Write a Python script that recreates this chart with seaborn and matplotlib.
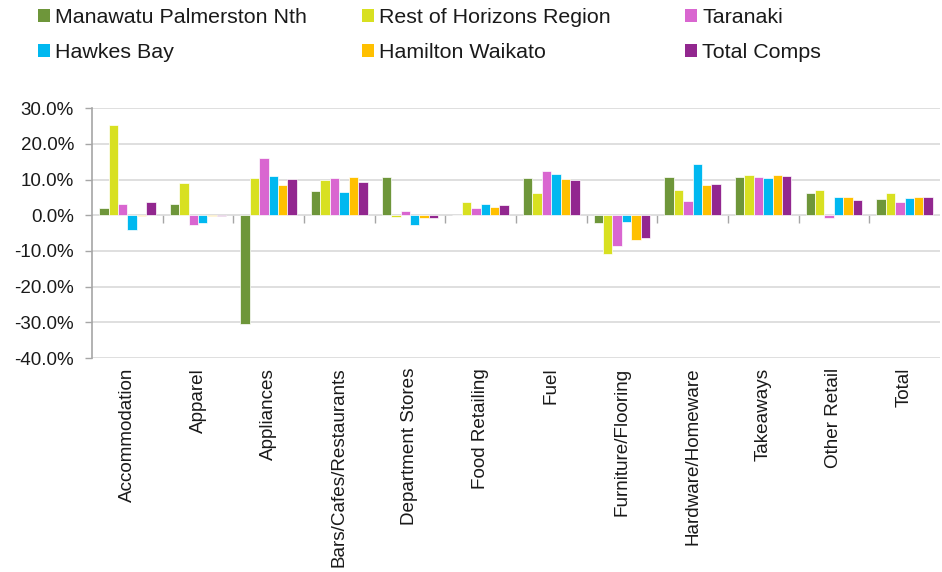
import pandas as pd
import matplotlib.pyplot as plt
import seaborn as sns
from matplotlib.ticker import PercentFormatter
from matplotlib.patches import Patch

# Kategoriler ve seriler
categories = ['Accommodation', 'Apparel', 'Appliances', 'Bars/Cafes/Restaurants',
              'Department Stores', 'Food Retailing', 'Fuel', 'Furniture/Flooring',
              'Hardware/Homeware', 'Takeaways', 'Other Retail', 'Total']
series = ['Manawatu Palmerston Nth', 'Rest of Horizons Region', 'Taranaki',
          'Hawkes Bay', 'Hamilton Waikato', 'Total Comps']
colors = ['#6E963A', '#D8E021', '#D966D0', '#00B8F0', '#FFC000', '#92278F']

# Değerler (%)
manawatu = [1.9, 3.1, -30.4, 6.9, 10.8, 0.0, 10.3, -2.1, 10.6, 10.7, 6.2, 4.6]
rest_horizons = [25.3, 9.1, 10.5, 9.8, -0.6, 3.6, 6.3, -10.9, 7.1, 11.3, 7.1, 6.2]
taranaki = [3.1, -2.6, 16.0, 10.5, 1.2, 2.1, 12.3, -8.5, 3.9, 10.6, -0.7, 3.8]
hawkes_bay = [-4.2, -2.1, 11.0, 6.4, -2.6, 3.2, 11.6, -1.8, 14.4, 10.3, 5.0, 4.9]
hamilton = [-0.2, -0.1, 8.5, 10.7, -0.7, 2.4, 10.1, -6.8, 8.4, 11.3, 5.0, 5.1]
total_comps = [3.7, -0.1, 10.2, 9.4, -0.9, 2.8, 9.9, -6.4, 8.7, 11.0, 4.4, 5.0]

values = [manawatu, rest_horizons, taranaki, hawkes_bay, hamilton, total_comps]
rows = []
for s, vals in zip(series, values):
    for c, v in zip(categories, vals):
        rows.append({'Category': c, 'Series': s, 'Value': v})
df = pd.DataFrame(rows)

sns.set_style('white')
plt.rcParams['font.family'] = ['Liberation Sans', 'DejaVu Sans']
plt.rcParams['axes.unicode_minus'] = False

fig = plt.figure(figsize=(9.42, 5.72), dpi=100)
ax = fig.add_axes([0.0977, 0.374, 0.9, 0.437])

sns.barplot(data=df, x='Category', y='Value', hue='Series', order=categories,
            hue_order=series, palette=colors, saturation=1, width=0.8, ax=ax,
            edgecolor='white', linewidth=0.5, legend=False)

ymin, ymax = -40, 30
ax.set_ylim(ymin, ymax)
ax.set_xlim(-0.5, len(categories) - 0.5)
ax.set_yticks(range(-40, 31, 10))
ax.yaxis.set_major_formatter(PercentFormatter(decimals=1))
ax.yaxis.grid(True, color='#D9D9D9', linewidth=1.2)
ax.set_axisbelow(True)
ax.tick_params(axis='y', which='major', length=5, width=1, color='#A6A6A6',
               left=True, labelsize=13.5, pad=8, labelcolor='#1a1a1a')
ax.set_xlabel('')
ax.set_ylabel('')

# Kategori etiketleri altta, döndürülmüş
ax.set_xticks(range(len(categories)))
ax.set_xticklabels(categories, rotation=90, fontsize=13.6, color='#1a1a1a')
ax.tick_params(axis='x', length=0, pad=7)

for sp in ['top', 'right', 'bottom']:
    ax.spines[sp].set_visible(False)
ax.spines['left'].set_color('#A6A6A6')
ax.spines['left'].set_linewidth(1.2)

# Sıfır çizgisi ve kategori sınırlarındaki işaretler
zero_pos = (0 - ymin) / (ymax - ymin)
sec = ax.secondary_xaxis(zero_pos)
sec.set_xticks([i - 0.5 for i in range(1, len(categories))])
sec.tick_params(axis='x', direction='out', length=6, width=1, color='#A6A6A6',
                labelbottom=False, labeltop=False, bottom=True, top=False)
sec.spines['bottom'].set_color('#A6A6A6')
sec.spines['bottom'].set_linewidth(1.2)
for sp in ['top', 'left', 'right']:
    if sp in sec.spines:
        sec.spines[sp].set_visible(False)

# Lejant: üç sütun, her biri ayrı
col_x = [38 / 942, 362 / 942, 685 / 942]
col_items = [[0, 3], [1, 4], [2, 5]]
for x0, items in zip(col_x, col_items):
    handles = [Patch(facecolor=colors[i], edgecolor='none') for i in items]
    labels = [series[i] for i in items]
    leg = fig.legend(handles, labels, loc='upper left',
                     bbox_to_anchor=(x0, 1 - 8 / 572), frameon=False,
                     fontsize=15.4, handlelength=0.56, handleheight=0.56,
                     handletextpad=0.25, labelspacing=0.75, borderpad=0,
                     borderaxespad=0)
    for t in leg.get_texts():
        t.set_color('#1a1a1a')

fig.savefig('out.png', dpi=100)
